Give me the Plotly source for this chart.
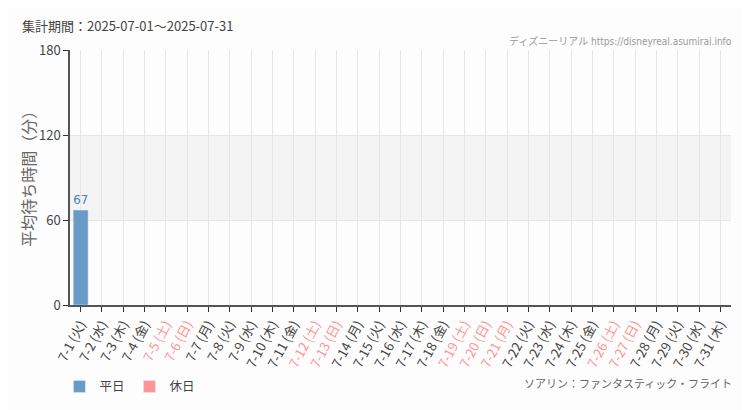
import plotly.graph_objects as go

# data
days = [f"7-{d}" for d in range(1, 32)]
weekday_names = ["火", "水", "木", "金", "土", "日", "月"]
holidays = ["7-5", "7-6", "7-12", "7-13", "7-19", "7-20", "7-21", "7-26", "7-27"]
wait_weekday = [67] + [None] * 30
wait_holiday = [None] * 31

BLUE = "#6a9ac6"
PINK = "#ff9494"
TEXT = "#444444"
FONT = "Noto Sans CJK JP"
NARROW = "Liberation Sans Narrow, DejaVu Sans Condensed, Roboto, Noto Sans CJK JP, sans-serif"

tick_text = []
for i, day in enumerate(days):
    label = f"{day} ({weekday_names[i % 7]})"
    color = PINK if day in holidays else TEXT
    tick_text.append(f"<span style='color:{color}'>{label}</span>")

fig = go.Figure()
fig.add_trace(
    go.Bar(
        x=days,
        y=wait_weekday,
        name="平日",
        marker={"color": BLUE},
        width=0.7,
        text=[str(v) if v is not None else "" for v in wait_weekday],
        textposition="outside",
        textfont={"family": NARROW, "size": 14, "color": "#4a7fb8"},
        cliponaxis=False,
    )
)
fig.add_trace(
    go.Bar(
        x=days,
        y=wait_holiday,
        name="休日",
        marker={"color": PINK},
        width=0.7,
    )
)

fig.add_hrect(y0=60, y1=120, fillcolor="#f4f4f4", line_width=0, layer="below")

fig.update_xaxes(
    type="category",
    range=[-0.5, 30.5],
    tickvals=days,
    ticktext=tick_text,
    tickangle=-62,
    tickfont={"family": FONT, "size": 13, "color": TEXT},
    ticks="outside",
    ticklen=5,
    tickcolor="#333333",
    showline=True,
    linecolor="#555555",
    linewidth=1.5,
    showgrid=True,
    gridcolor="#e6e6e6",
    fixedrange=True,
    automargin=False,
)
fig.update_yaxes(
    range=[0, 180],
    tickvals=[0, 60, 120, 180],
    tickfont={"family": FONT, "size": 13, "color": TEXT},
    ticks="outside",
    ticklen=5,
    tickcolor="#333333",
    showline=True,
    linecolor="#555555",
    linewidth=1.5,
    showgrid=True,
    gridcolor="#e6e6e6",
    zeroline=False,
    automargin=False,
)

fig.update_layout(
    width=750,
    height=410,
    margin={"l": 62, "r": 27, "t": 42, "b": 113},
    paper_bgcolor="#fdfdfd",
    plot_bgcolor="#fdfdfd",
    barmode="overlay",
    bargap=0.3,
    font={"family": FONT, "color": TEXT},
    legend={
        "orientation": "h",
        "x": -0.016,
        "y": -0.262,
        "xanchor": "left",
        "yanchor": "top",
        "font": {"family": FONT, "size": 12.5, "color": TEXT},
        "itemwidth": 30,
    },
    annotations=[
        {
            "text": "平均待ち時間（分）",
            "textangle": -90,
            "xref": "paper",
            "yref": "paper",
            "x": -0.064,
            "y": 0.51,
            "xanchor": "center",
            "yanchor": "middle",
            "showarrow": False,
            "font": {"family": FONT, "size": 16, "color": "#666666"},
        },
        {
            "text": "集計期間：2025-07-01～2025-07-31",
            "xref": "paper",
            "yref": "paper",
            "x": -0.0756,
            "y": 1.0,
            "yshift": 36,
            "xanchor": "left",
            "yanchor": "top",
            "showarrow": False,
            "font": {"family": FONT, "size": 13, "color": TEXT},
        },
        {
            "text": "ディズニーリアル https://disneyreal.asumirai.info",
            "xref": "paper",
            "yref": "paper",
            "x": 1.0,
            "y": 1.0,
            "xshift": 3,
            "yshift": 1,
            "xanchor": "right",
            "yanchor": "bottom",
            "showarrow": False,
            "font": {"family": NARROW, "size": 10, "color": "#999999"},
        },
        {
            "text": "ソアリン：ファンタスティック・フライト",
            "xref": "paper",
            "yref": "paper",
            "x": 1.0,
            "y": -0.265,
            "xshift": 3,
            "xanchor": "right",
            "yanchor": "top",
            "showarrow": False,
            "font": {"family": FONT, "size": 11, "color": "#666666"},
        },
    ],
)

fig.write_html("out.html", config={"displayModeBar": False})
